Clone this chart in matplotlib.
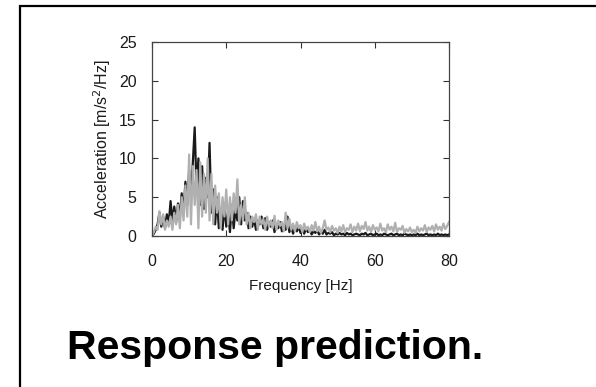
import numpy as np
import matplotlib
matplotlib.use("Agg")
import matplotlib.pyplot as plt
from matplotlib.patches import Rectangle

plt.rcParams['font.family'] = ['Liberation Sans', 'DejaVu Sans']

# frequency axis, 0.5 Hz steps from 0 to 80 Hz
freq = np.arange(0, 80.01, 0.5)

# measured response (black)
accel_black = [
    0, 0.3, 0.8, 1.5, 3.0, 1.2, 2.5, 1.0, 2.8, 1.5, 4.5,
    2.0, 3.8, 1.8, 4.2, 2.5, 5.5, 3.0, 7.0, 4.0, 8.5,
    5.0, 9.5, 14.0, 6.0, 10.0, 4.0, 9.0, 3.5, 7.5, 5.0,
    12.0, 3.0, 6.0, 1.5, 5.0, 1.0, 3.5, 0.8, 4.0, 1.2,
    3.0, 0.5, 4.0, 1.0, 3.5, 2.0, 5.0, 1.5, 4.5, 2.0,
    3.0, 1.0, 2.5, 1.2, 2.2, 0.8, 2.0, 1.5, 2.5, 1.0,
    2.3, 0.8, 1.8, 1.2, 2.0, 0.5, 1.5, 1.0, 1.8, 0.6,
    1.4, 0.8, 2.5, 0.5, 1.2, 0.3, 1.0, 0.6, 1.2, 0.4,
    0.9, 0.3, 1.0, 0.5, 0.8, 0.2, 0.6, 0.4, 0.7, 0.2,
    0.5, 0.3, 0.8, 0.2, 0.4, 0.3, 0.5, 0.1, 0.3, 0.2,
    0.4, 0.2, 0.3, 0.1, 0.4, 0.2, 0.3, 0.1, 0.2, 0.3,
    0.2, 0.1, 0.3, 0.2, 0.4, 0.1, 0.2, 0.3, 0.1, 0.2,
    0.3, 0.1, 0.2, 0.1, 0.3, 0.2, 0.1, 0.2, 0.3, 0.1,
    0.2, 0.3, 0.1, 0.2, 0.1, 0.3, 0.2, 0.1, 0.2, 0.1,
    0.2, 0.1, 0.3, 0.1, 0.2, 0.1, 0.2, 0.3, 0.1, 0.2,
    0.1, 0.2, 0.1, 0.3, 0.1, 0.2, 0.1, 0.2, 0.1, 0.2,
]

# predicted response (gray)
accel_gray = [
    0, 0.5, 1.2, 0.8, 3.2, 1.5, 2.8, 0.8, 2.0, 1.2, 2.5,
    0.8, 3.0, 1.5, 4.0, 1.0, 5.0, 2.0, 6.5, 2.5, 10.5,
    1.5, 9.0, 4.0, 8.5, 1.0, 9.5, 2.5, 8.0, 3.0, 10.0,
    2.0, 8.0, 1.5, 6.5, 3.0, 5.5, 1.0, 5.0, 2.5, 6.0,
    1.5, 5.0, 2.0, 5.5, 3.0, 7.3, 1.5, 4.0, 2.0, 5.0,
    1.5, 3.0, 1.0, 2.5, 1.8, 2.8, 0.8, 2.5, 1.5, 2.2,
    0.8, 2.5, 1.2, 2.0, 1.0, 2.6, 0.8, 2.0, 1.3, 1.8,
    0.6, 3.0, 1.0, 2.2, 0.8, 1.6, 0.6, 1.8, 1.0, 1.4,
    0.5, 1.6, 0.8, 1.2, 0.5, 1.4, 0.7, 1.8, 0.6, 1.2,
    0.4, 1.0, 2.0, 0.8, 1.1, 0.5, 1.3, 0.7, 1.0, 0.4,
    1.2, 0.6, 1.4, 0.5, 1.0, 0.8, 1.5, 0.5, 1.2, 0.7,
    1.6, 0.6, 1.3, 0.9, 1.8, 0.7, 1.2, 0.5, 1.4, 0.8,
    1.1, 0.6, 1.6, 0.7, 1.0, 0.5, 1.5, 0.8, 1.2, 0.6,
    1.7, 0.5, 1.0, 0.8, 1.3, 0.4, 0.9, 0.6, 1.1, 0.5,
    0.8, 0.4, 1.2, 0.6, 1.0, 0.7, 1.4, 0.5, 1.1, 0.8,
    1.3, 0.6, 1.5, 0.8, 1.2, 0.7, 1.6, 0.9, 1.3, 1.8,
]

xticks = [0, 20, 40, 60, 80]
yticks = [0, 5, 10, 15, 20, 25]

fig = plt.figure(figsize=(5.96, 3.87), dpi=100)

# outer frame of the slide (runs off right and bottom)
fig.patches.append(Rectangle((20/596, -0.1), 1.2, 1 - 6/387 + 0.1,
                             transform=fig.transFigure, fill=False,
                             edgecolor='black', linewidth=1.6))

ax = fig.add_axes([152/596, 1 - 236/387, 297/596, 194/387])
ax.plot(freq, accel_black, color='#1a1a1a', linewidth=1.6)
ax.plot(freq, accel_gray, color='#b0b0b0', linewidth=1.6)

ax.set_xlim(0, 80)
ax.set_ylim(0, 25)
ax.set_xticks(xticks)
ax.set_yticks(yticks)
ax.tick_params(direction='in', top=True, right=True, length=4,
               width=0.8, color='#333333', labelsize=11.5, labelcolor='#1a1a1a')
ax.tick_params(axis='x', pad=13)
ax.tick_params(axis='y', pad=11)
for s in ax.spines.values():
    s.set_color('#444444')
    s.set_linewidth(0.9)

ax.set_xlabel('Frequency [Hz]', fontsize=11, color='#1a1a1a', labelpad=7)
ax.set_ylabel('Acceleration [m/s$^2$/Hz]', fontsize=11.5, color='#1a1a1a', labelpad=4)

fig.text(275/596, 1 - 359/387, 'Response prediction.', fontsize=29.5,
         fontweight='bold', ha='center', va='baseline', color='black')

fig.savefig('out.png', dpi=100)
